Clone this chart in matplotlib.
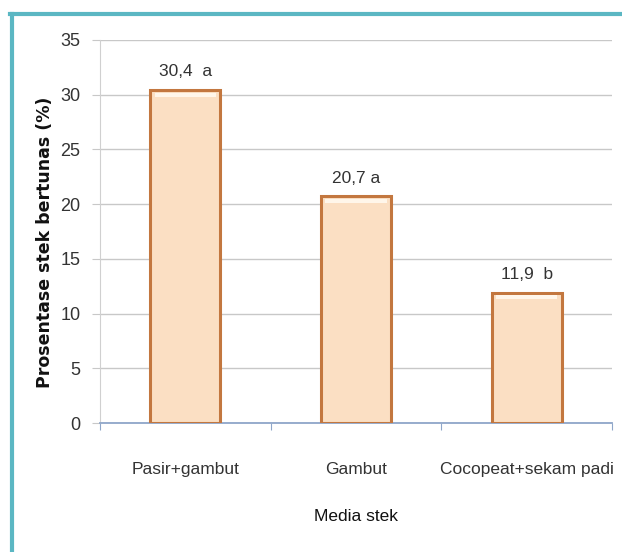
import numpy as np
import matplotlib
matplotlib.use('Agg')
import matplotlib.pyplot as plt
from matplotlib.patches import Rectangle
from matplotlib.lines import Line2D

plt.rcParams['font.family'] = ['Liberation Sans', 'DejaVu Sans']

# 数据
categories = ['Pasir+gambut', 'Gambut', 'Cocopeat+sekam padi']
values = [30.4, 20.7, 11.9]
label_texts = ['30,4  a', '20,7 a', '11,9  b']

fig = plt.figure(figsize=(6.22, 5.52), dpi=100)
W, H = 622, 552

# 外框 (teal)
fig.add_artist(Line2D([11.5 / W, 11.5 / W], [0, 1 - 13.5 / H], color='#5bb7c3', lw=3,
                      transform=fig.transFigure))
fig.add_artist(Line2D([10 / W, 1], [1 - 13.5 / H, 1 - 13.5 / H], color='#5bb7c3', lw=3,
                      transform=fig.transFigure))

ax = fig.add_axes([100 / W, 129 / H, 512 / W, 383 / H])

x = np.arange(len(categories))
ax.bar(x, values, width=0.41, color='#fbdfc3', edgecolor='#c3773f', linewidth=2.2, zorder=3)
# 顶部高光
for xi, v in zip(x, values):
    ax.add_patch(Rectangle((xi - 0.18, v - 0.6), 0.36, 0.4, color='#fff6ea', lw=0, zorder=4))

for xi, v, t in zip(x, values, label_texts):
    ax.text(xi, v + 1.0, t, ha='center', va='bottom', fontsize=12.5, color='#333333')

ax.set_xlim(-0.5, 2.5)
ax.set_ylim(0, 35)
ax.set_yticks(range(0, 36, 5))
ax.yaxis.grid(True, color='#c8c8c8', lw=1.0, zorder=0)
ax.set_axisbelow(True)

for s in ['top', 'right']:
    ax.spines[s].set_visible(False)
ax.spines['left'].set_color('#d0d0d0')
ax.spines['bottom'].set_color('#8fa6c9')
ax.spines['bottom'].set_linewidth(1.3)

ax.set_xticks([-0.5, 0.5, 1.5, 2.5])
ax.set_xticklabels([])
ax.set_xticks(x, minor=True)
ax.set_xticklabels(categories, minor=True, fontsize=12.5, color='#333333')
ax.tick_params(axis='x', which='major', length=5, color='#8fa6c9', direction='out')
ax.tick_params(axis='x', which='minor', length=0, pad=28)
ax.tick_params(axis='y', length=6, color='#c8c8c8', labelsize=13, labelcolor='#333333', pad=8)

ax.set_xlabel('Media stek', fontsize=12.5, color='#111111', va='center')
ax.xaxis.set_label_coords(0.5, -0.245)
ax.set_ylabel('Prosentase stek bertunas (%)', fontsize=12.5, fontweight='bold',
              family=['DejaVu Sans'], color='#111111', va='center')
ax.yaxis.set_label_coords(-0.107, 0.473)

fig.savefig('out.png', dpi=100)
